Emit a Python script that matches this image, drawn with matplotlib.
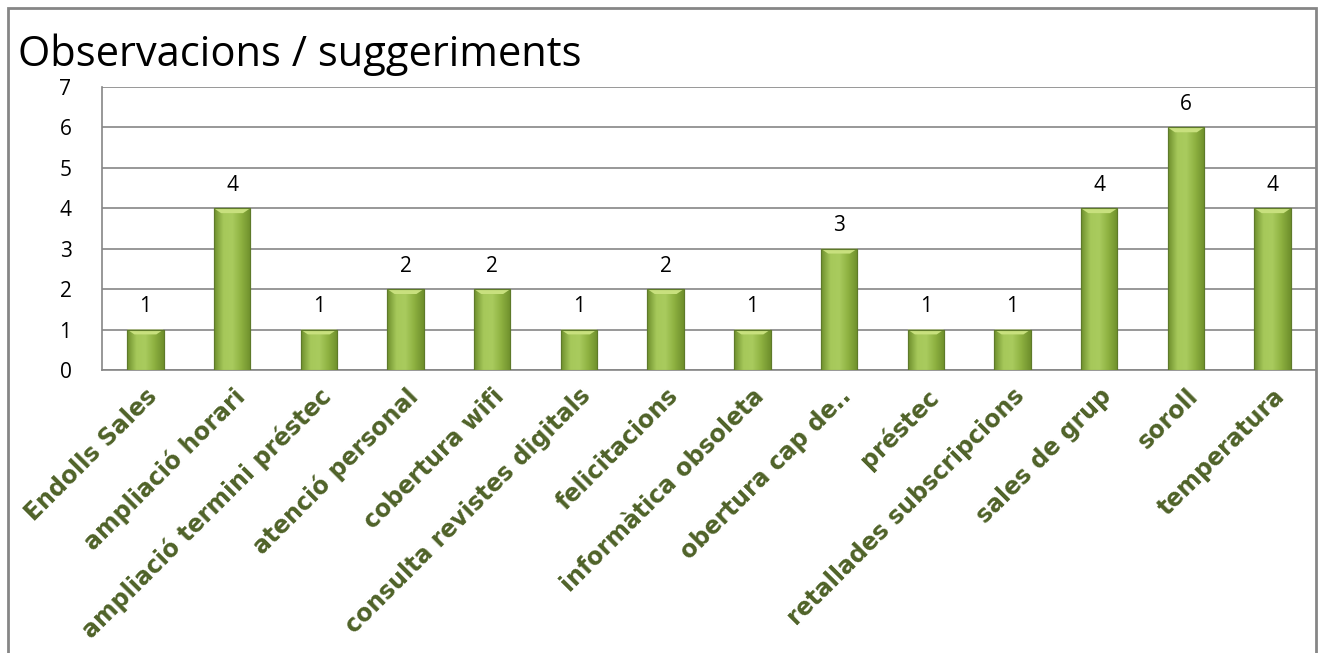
import matplotlib.pyplot as plt
import matplotlib.patches as mpatches
import numpy as np
from matplotlib.colors import LinearSegmentedColormap

# dades del gràfic
categories = ['Endolls Sales', 'ampliació horari', 'ampliació termini préstec',
              'atenció personal', 'cobertura wifi', 'consulta revistes digitals',
              'felicitacions', 'informàtica obsoleta', 'obertura cap de..',
              'préstec', 'retallades subscripcions', 'sales de grup', 'soroll',
              'temperatura']
valors = [1, 4, 1, 2, 2, 1, 2, 1, 3, 1, 1, 4, 6, 4]
yticks = [0, 1, 2, 3, 4, 5, 6, 7]

W, H = 1323, 653
fig = plt.figure(figsize=(W / 100, H / 100), dpi=100)
ax = fig.add_axes([102 / W, 1 - 370 / H, (1316 - 102) / W, (370 - 87) / H])

x = np.arange(len(categories))
bw = 0.42
bars = ax.bar(x, valors, width=bw, color='#9BBB59', edgecolor='#5E7A2A',
              linewidth=0.8, zorder=3)

# degradat horitzontal dins de cada barra
cmap = LinearSegmentedColormap.from_list('verd', ['#6E8F2C', '#A6C85A', '#A9CB5E', '#8DB040', '#6E8F2C'])
grad = np.linspace(0, 1, 64).reshape(1, -1)
for b in bars:
    x0, w, h = b.get_x(), b.get_width(), b.get_height()
    im = ax.imshow(grad, extent=[x0, x0 + w, 0, h], aspect='auto', cmap=cmap,
                   zorder=3.5, interpolation='bicubic')
    im.set_clip_path(b)
    # bisell superior més clar
    tri = mpatches.Polygon([[x0, h], [x0 + w, h], [x0 + w * 0.8, h - 0.12],
                            [x0 + w * 0.2, h - 0.12]], closed=True,
                           facecolor='#C8E07E', edgecolor='none', zorder=3.6)
    ax.add_patch(tri)
    ax.add_patch(mpatches.Rectangle((x0, 0), w, h, fill=False,
                                    edgecolor='#5E7A2A', linewidth=0.8, zorder=3.7))
    ax.annotate(str(int(h)), (x0 + w / 2, h), xytext=(0, 9),
                textcoords='offset points', ha='center', va='bottom',
                fontsize=15, family='Open Sans', color='black')

ax.set_xlim(-0.5, len(categories) - 0.5)
ax.set_ylim(0, 7)
ax.set_yticks(yticks)
ax.set_yticklabels([str(v) for v in yticks], fontsize=15, family='Open Sans')
ax.tick_params(axis='y', length=0, pad=22)
ax.tick_params(axis='x', length=0, pad=10)
ax.set_xticks(x)
ax.set_xticklabels(categories, rotation=45, ha='right', rotation_mode='anchor',
                   fontsize=17, fontweight='bold', color='#4F6228',
                   family='DejaVu Sans')
ax.grid(axis='y', color='#868686', linewidth=1.2, zorder=0)
for s in ['top', 'right']:
    ax.spines[s].set_visible(False)
ax.spines['left'].set_color('#868686')
ax.spines['bottom'].set_color('#868686')
ax.spines['left'].set_linewidth(1.2)
ax.spines['bottom'].set_linewidth(1.2)

fig.text(18 / W, 1 - 55 / H, 'Observacions / suggeriments', fontsize=30,
         family='Open Sans', va='center', ha='left')

# marc exterior
fig.patches.append(mpatches.Rectangle((8 / W, -0.05), (1316 - 8) / W, 1.05 - 8 / H,
                                      transform=fig.transFigure, fill=False,
                                      edgecolor='#868686', linewidth=2))

fig.savefig('out.png', dpi=100)
